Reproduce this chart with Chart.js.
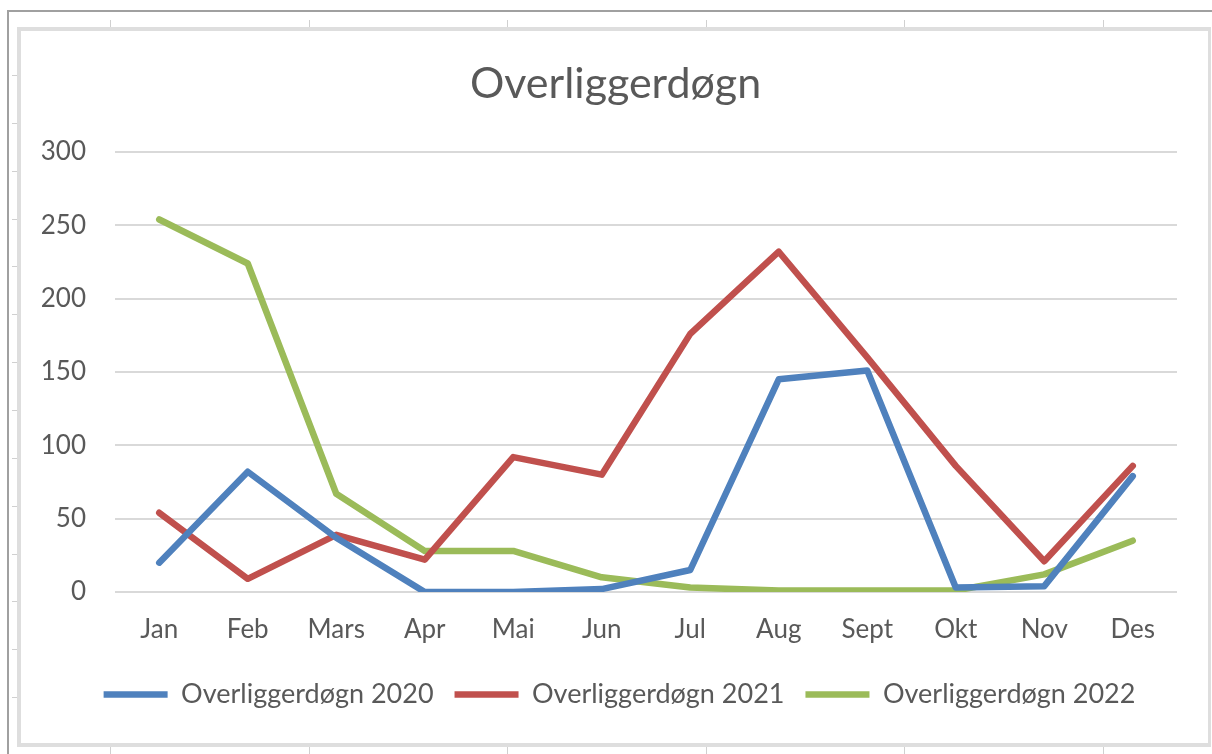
<!DOCTYPE html>
<html>
<head>
<meta charset="utf-8">
<script src="https://cdn.jsdelivr.net/npm/chart.js@4"></script>
<style>
  html, body { margin: 0; padding: 0; background: #ffffff; }
  #wrap { position: relative; width: 1212px; height: 754px; }
  canvas { display: block; }
</style>
</head>
<body>
<div id="wrap"><canvas id="c" width="1212" height="754"></canvas></div>
<script>
const months = ['Jan','Feb','Mars','Apr','Mai','Jun','Jul','Aug','Sept','Okt','Nov','Des'];
const series2020 = [20, 82, 37, 0, 0, 2, 15, 145, 151, 3, 4, 79];
const series2021 = [54, 9, 39, 22, 92, 80, 176, 232, 160, 86, 21, 86];
const series2022 = [254, 224, 67, 28, 28, 10, 3, 1, 1, 1, 12, 35];
const seriesNames = ['Overliggerdøgn 2020', 'Overliggerdøgn 2021', 'Overliggerdøgn 2022'];
const chartTitle = 'Overliggerdøgn';

const FONT = 'Lato';
const TEXT = '#595959';

// decorative Excel-like frame
const framePlugin = {
  id: 'frame',
  afterLayout(chart) {
    // nudge title and legend horizontally to match the reference centring
    if (chart.legend) { chart.legend.left += 11; chart.legend.right += 11; }
    if (chart.titleBlock) { chart.titleBlock.left += 7; chart.titleBlock.right += 7; }
  },
  beforeDraw(chart) {
    const ctx = chart.ctx;
    ctx.save();
    ctx.fillStyle = '#ffffff';
    ctx.fillRect(0, 0, chart.width, chart.height);
    // outer dark border
    ctx.fillStyle = '#a0a0a0';
    ctx.fillRect(7, 10, 1205, 2);
    ctx.fillRect(7, 10, 2, 744);
    // light ruler band
    ctx.fillStyle = '#dedede';
    ctx.fillRect(17, 27, 1194, 4);
    ctx.fillRect(17, 27, 4, 720);
    ctx.fillRect(17, 743, 1194, 4);
    ctx.fillRect(1208, 27, 3, 720);
    // ruler ticks
    ctx.fillStyle = '#d0d0d0';
    for (let i = 0; i < 6; i++) {
      const x = Math.round(110 + i * 198.6);
      ctx.fillRect(x, 20, 1, 7);
      ctx.fillRect(x, 747, 1, 7);
    }
    for (let i = 0; i < 14; i++) {
      const y = Math.round(75 + i * 47.85);
      ctx.fillRect(12, y, 5, 1);
    }
    ctx.restore();
  }
};

const mk = (label, data, color) => ({
  label, data,
  borderColor: color, backgroundColor: color,
  borderWidth: 6.5, pointRadius: 0, pointHoverRadius: 0,
  tension: 0, fill: false,
  borderCapStyle: 'round', borderJoinStyle: 'round',
  pointStyle: 'line'
});

new Chart(document.getElementById('c'), {
  type: 'line',
  data: {
    labels: months,
    datasets: [
      mk(seriesNames[0], series2020, '#4F81BD'),
      mk(seriesNames[1], series2021, '#C0504D'),
      mk(seriesNames[2], series2022, '#9BBB59')
    ]
  },
  options: {
    responsive: false,
    animation: false,
    devicePixelRatio: 1,
    layout: { padding: { left: 40, right: 35, top: 0, bottom: 36 } },
    plugins: {
      title: {
        display: true, text: chartTitle, color: TEXT,
        font: { family: FONT, size: 43, weight: 'normal', lineHeight: 1.2 },
        padding: { top: 58, bottom: 42.4 }
      },
      legend: {
        position: 'bottom',
        labels: {
          color: TEXT,
          font: { family: FONT, size: 27 },
          usePointStyle: true,
          pointStyleWidth: 64,
          boxHeight: 27,
          padding: 21
        }
      },
      tooltip: { enabled: false }
    },
    scales: {
      x: {
        offset: true,
        grid: { display: false, drawTicks: false },
        border: { display: false },
        ticks: { color: TEXT, font: { family: FONT, size: 26 }, padding: 22, maxRotation: 0 },
        afterFit(scale) { scale.height = 68; }
      },
      y: {
        min: 0, max: 300,
        grid: { color: '#d9d9d9', lineWidth: 2, drawTicks: false },
        border: { display: false },
        ticks: { stepSize: 50, color: TEXT, font: { family: FONT, size: 26 }, padding: 29 },
        afterFit(scale) { scale.width = 75; }
      }
    }
  },
  plugins: [framePlugin]
});
</script>
</body>
</html>
